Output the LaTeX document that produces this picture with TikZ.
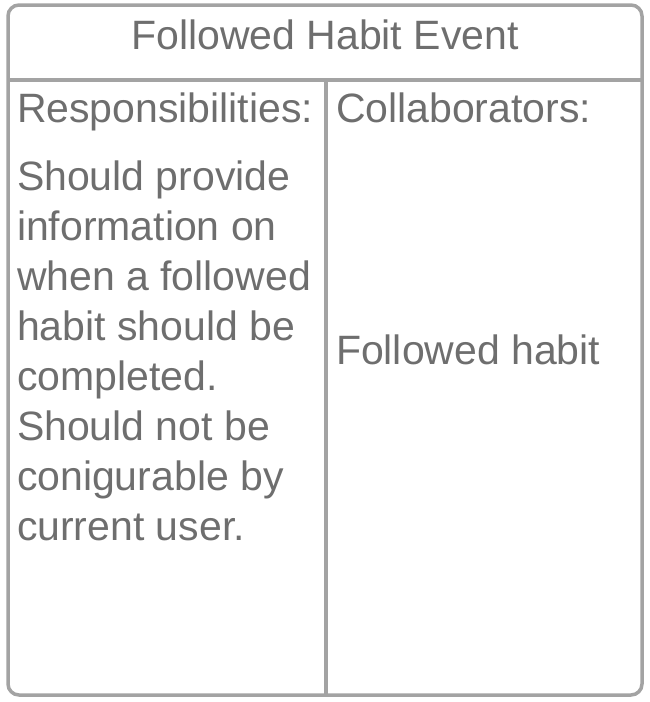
\documentclass[tikz,border=0pt]{standalone}
\usepackage{fontspec}
\setmainfont{Liberation Sans}
\definecolor{cardline}{HTML}{A3A3A3}
\definecolor{cardtext}{HTML}{6E6E6E}
\begin{document}
\begin{tikzpicture}[x=1pt,y=-1pt,
  cardtxt/.style={inner sep=0pt,outer sep=0pt,text=cardtext,font=\fontsize{41}{50}\selectfont},
  cardrule/.style={draw=cardline,line width=3.5pt}]
\useasboundingbox (0,0) rectangle (650,702);
\draw[cardrule,rounded corners=11pt] (8,5) rectangle (642,695);
\coordinate (hl) at (8,80);
\coordinate (hr) at (642,80);
\coordinate (vt) at (326,80);
\coordinate (vb) at (326,695);
\draw[cardrule] (hl) -- (hr);
\draw[cardrule] (vt) -- (vb);
\node[cardtxt,anchor=base] (title) at (325,49) {Followed Habit Event};
\node[cardtxt,anchor=base west] (resp) at (17,122) {Responsibilities:};
\node[cardtxt,anchor=base west] (coll) at (336,122) {Collaborators:};
\node[cardtxt,anchor=base west,align=left] (body) at (17,540) {Should provide\\information on\\when a followed\\habit should be\\completed.\\Should not be\\conigurable by\\current user.};
\node[cardtxt,anchor=base west] (collab) at (336,364) {Followed habit};
\end{tikzpicture}
\end{document}
